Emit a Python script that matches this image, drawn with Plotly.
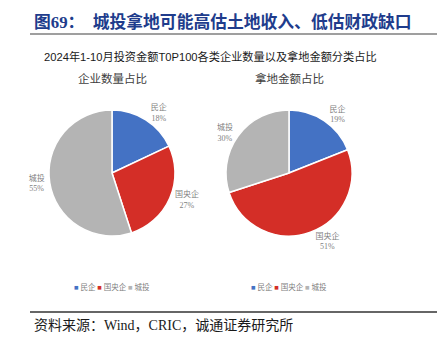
import plotly.graph_objects as go

# Data
categories = ["民企", "国央企", "城投"]
count_share = [18, 27, 55]      # 企业数量占比 (%)
amount_share = [19, 51, 30]     # 拿地金额占比 (%)
colors = ["#4472C4", "#D42E27", "#B4B4B4"]

title_text = "图69：  城投拿地可能高估土地收入、低估财政缺口"
subtitle_text = "2024年1-10月投资金额T0P100各类企业数量以及拿地金额分类占比"
pie_titles = ["企业数量占比", "拿地金额占比"]
source_text = "资料来源：Wind，CRIC，诚通证券研究所"

W, H = 437, 338
SERIF = "Liberation Serif, Noto Sans CJK SC, serif"
SANS = "Liberation Sans, Noto Sans CJK SC, sans-serif"
LABEL_GRAY = "#7F7F7F"


def px_x(x):
    return x / W


def px_y(y):
    return 1 - y / H


def pie_domain(cx, cy, r):
    return dict(x=[px_x(cx - r), px_x(cx + r)], y=[px_y(cy + r), px_y(cy - r)])


fig = go.Figure()
pie_centers = [(112, 173), (289, 173)]
for values, (cx, cy) in zip([count_share, amount_share], pie_centers):
    fig.add_trace(go.Pie(
        labels=categories,
        values=values,
        sort=False,
        direction="clockwise",
        rotation=0,
        marker=dict(colors=colors, line=dict(color="white", width=1.5)),
        textposition="outside",
        texttemplate="%{label}<br>%{percent:.0%}",
        textfont=dict(family=SERIF, size=8, color=LABEL_GRAY),
        domain=pie_domain(cx, cy, 63),
        showlegend=False,
        hoverinfo="label+percent",
    ))

annotations = [
    dict(x=px_x(32), y=px_y(22), xanchor="left", yanchor="middle",
         text="<b>" + title_text + "</b>", showarrow=False,
         font=dict(family=SERIF, size=16.8, color="#203C8C")),
    dict(x=px_x(210.5), y=px_y(57), xanchor="center", yanchor="middle",
         text=subtitle_text, showarrow=False,
         font=dict(family=SANS, size=11.2, color="#1A1A1A")),
    dict(x=px_x(32), y=px_y(325), xanchor="left", yanchor="middle",
         text=source_text, showarrow=False,
         font=dict(family=SERIF, size=14, color="#1A1A1A")),
]

for title, (cx, cy) in zip(pie_titles, pie_centers):
    annotations.append(dict(
        x=px_x(cx), y=px_y(79), xanchor="center", yanchor="middle",
        text=title, showarrow=False,
        font=dict(family=SANS, size=11.5, color="#404040")))
    legend_html = " ".join(
        f"<span style='color:{c}'>■</span> {lab}" for lab, c in zip(categories, colors))
    annotations.append(dict(
        x=px_x(cx), y=px_y(287), xanchor="center", yanchor="middle",
        text=legend_html, showarrow=False,
        font=dict(family=SERIF, size=7.5, color=LABEL_GRAY)))

shapes = [
    dict(type="line", xref="paper", yref="paper", x0=px_x(30), x1=1,
         y0=px_y(34), y1=px_y(34), line=dict(color="#7F7F7F", width=1.5)),
    dict(type="line", xref="paper", yref="paper", x0=px_x(30), x1=1,
         y0=px_y(312), y1=px_y(312), line=dict(color="#333333", width=1.5)),
]

fig.update_layout(
    width=W, height=H,
    margin=dict(l=0, r=0, t=0, b=0),
    paper_bgcolor="white",
    plot_bgcolor="white",
    annotations=annotations,
    shapes=shapes,
)

fig.write_html("out.html")
